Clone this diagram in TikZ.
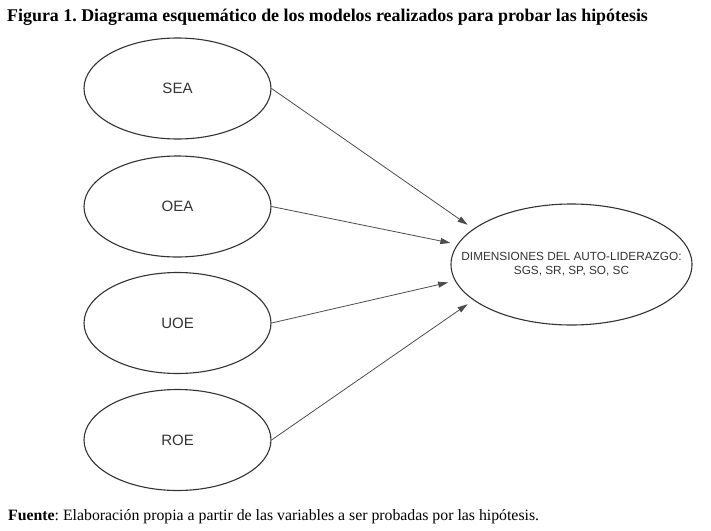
\documentclass[tikz,border=0pt]{standalone}
\usepackage{fontspec}
\setmainfont{Liberation Serif}
\newfontfamily\arialfont{Liberation Sans}
\usetikzlibrary{arrows.meta,shapes.geometric}
\frenchspacing
\begin{document}
\begin{tikzpicture}
[
    x=1pt, y=-1pt,
    var/.style={ellipse, draw=black!80, line width=1.1pt, inner sep=0pt,
        minimum width=187pt, minimum height=101pt, text=black!80,
        font=\arialfont\fontsize{15}{18}\selectfont},
    dim/.style={ellipse, draw=black!80, line width=1.1pt, inner ysep=0pt, inner xsep=-28pt,
        minimum width=241pt, minimum height=121pt, text=black!80, align=center,
        font=\arialfont\fontsize{11.8}{14}\selectfont},
    link/.style={draw=black!70, line width=0.8pt,
        -{Triangle[length=10pt,width=6pt]}, shorten >=7pt},
]
\useasboundingbox (0,0) rectangle (711,530);
\node[anchor=base west, inner sep=0pt, font=\bfseries\fontsize{17.9}{20}\selectfont] (title) at (7,21)
    {Figura 1. Diagrama esquemático de los modelos realizados para probar las hipótesis};
\node[var] (sea) at (177.5,88.5) {SEA};
\node[var] (oea) at (177.5,206.5) {OEA};
\node[var] (uoe) at (177.5,323) {UOE};
\node[var] (roe) at (177.5,440) {ROE};
\node[dim] (dims) at (571.5,264.5) {DIMENSIONES DEL AUTO-LIDERAZGO:\\SGS, SR, SP, SO, SC};
\draw[link] (sea.east) -- (dims.160);
\draw[link] (oea.east) -- (dims.170);
\draw[link] (uoe.east) -- (dims.188);
\draw[link] (roe.east) -- (dims.200);
\node[anchor=base west, inner sep=0pt, font=\fontsize{15.8}{18}\selectfont] (source) at (8,520)
    {\textbf{Fuente}: Elaboración propia a partir de las variables a ser probadas por las hipótesis.};
\end{tikzpicture}
\end{document}
